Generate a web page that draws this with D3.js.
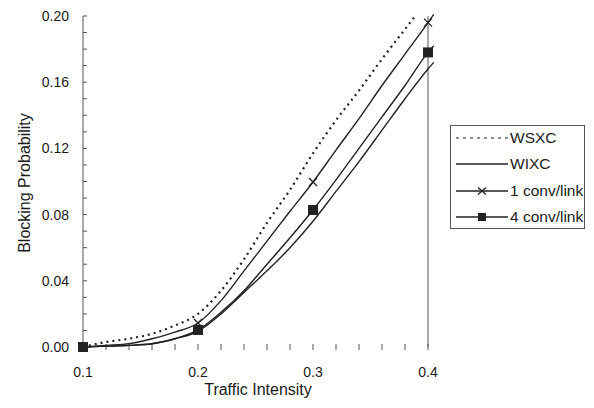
<!DOCTYPE html>
<html>
<head>
<meta charset="utf-8">
<script src="https://cdn.jsdelivr.net/npm/d3@7"></script>
<style>
  body { margin: 0; background: #fff; }
  svg text { font-family: "Liberation Sans", Arial, sans-serif; fill: #1a1a1a; }
</style>
</head>
<body>
<svg width="594" height="408"></svg>
<script>
// traffic intensity samples
const xs = [0.1, 0.12, 0.14, 0.16, 0.18, 0.2, 0.22, 0.24, 0.26, 0.28, 0.3, 0.32, 0.34, 0.36, 0.38, 0.4, 0.405];

const wsxc = [0, 0.003, 0.005, 0.008, 0.013, 0.02, 0.034, 0.053, 0.075, 0.095, 0.117, 0.137, 0.155, 0.174, 0.192];
const wsxcEnd = [0.39, 0.201];
const wixc = [0, 0.0005, 0.001, 0.002, 0.005, 0.0095, 0.02, 0.033, 0.046, 0.060, 0.076, 0.094, 0.112, 0.131, 0.150, 0.168, 0.172];
const conv1 = [0, 0.001, 0.002, 0.005, 0.009, 0.0145, 0.028, 0.046, 0.064, 0.082, 0.0997, 0.119, 0.138, 0.158, 0.177, 0.196, 0.201];
const conv4 = [0, 0.0005, 0.001, 0.002, 0.005, 0.0103, 0.021, 0.034, 0.050, 0.066, 0.0828, 0.101, 0.120, 0.139, 0.158, 0.178, 0.182];

const markerX = [0.1, 0.2, 0.3, 0.4];
const conv1Marks = [0.2, 0.3, 0.4];

const yTicks = [0, 0.04, 0.08, 0.12, 0.16, 0.20];
const xTicks = [0.1, 0.2, 0.3, 0.4];
const legendNames = ["WSXC", "WIXC", "1 conv/link", "4 conv/link"];

const svg = d3.select("svg");
const ink = "#222";

const x = d3.scaleLinear().domain([0.1, 0.4]).range([83, 428]);
const y = d3.scaleLinear().domain([0, 0.2]).range([347, 16]);

// y axis line, right-hand guide + inward minor ticks
svg.append("line")
    .attr("x1", x(0.1)).attr("x2", x(0.1))
    .attr("y1", y(0.2)).attr("y2", y(0))
    .attr("stroke", "#555").attr("stroke-width", 1);
svg.append("line")
    .attr("x1", x(0.4)).attr("x2", x(0.4))
    .attr("y1", y(0.2)).attr("y2", y(0))
    .attr("stroke", "#555").attr("stroke-width", 1);

const yMinor = d3.range(0, 21).map(i => i / 100);
svg.selectAll(".ytick")
    .data(yMinor)
  .enter().append("line")
    .attr("x1", x(0.1)).attr("x2", x(0.1) + 4)
    .attr("y1", d => y(d)).attr("y2", d => y(d))
    .attr("stroke", "#555");

const xMinor = d3.range(0, 16).map(i => 0.1 + i * 0.02);
svg.selectAll(".xtick")
    .data(xMinor)
  .enter().append("line")
    .attr("x1", d => x(d)).attr("x2", d => x(d))
    .attr("y1", y(0) - 3).attr("y2", y(0) + 3)
    .attr("stroke", "#555");

svg.selectAll(".ylab")
    .data(yTicks)
  .enter().append("text")
    .attr("x", 69)
    .attr("y", d => y(d))
    .attr("dy", "0.35em")
    .attr("text-anchor", "end")
    .style("font-size", "14px")
    .text(d => d.toFixed(2));

svg.selectAll(".xlab")
    .data(xTicks)
  .enter().append("text")
    .attr("x", d => x(d))
    .attr("y", 377)
    .attr("text-anchor", "middle")
    .style("font-size", "14px")
    .text(d => d.toFixed(1));

svg.append("text")
    .attr("x", 258).attr("y", 395)
    .attr("text-anchor", "middle")
    .style("font-size", "16px")
    .text("Traffic Intensity");

svg.append("text")
    .attr("transform", "translate(30,183) rotate(-90)")
    .attr("text-anchor", "middle")
    .style("font-size", "16px")
    .text("Blocking Probability");

// curves
const line = d3.line()
    .x(d => x(d[0]))
    .y(d => y(d[1]))
    .curve(d3.curveMonotoneX);

const wsxcPts = wsxc.map((v, i) => [xs[i], v]).concat([wsxcEnd]);
const series = [
  {pts: wsxcPts, dash: "2,4", w: 2.2},
  {pts: wixc.map((v, i) => [xs[i], v]), dash: null, w: 1.4},
  {pts: conv1.map((v, i) => [xs[i], v]), dash: null, w: 1.4},
  {pts: conv4.map((v, i) => [xs[i], v]), dash: null, w: 1.4}
];

svg.selectAll(".curve")
    .data(series)
  .enter().append("path")
    .attr("d", d => line(d.pts))
    .attr("fill", "none")
    .attr("stroke", ink)
    .attr("stroke-width", d => d.w)
    .attr("stroke-dasharray", d => d.dash);

// markers
const c1 = d => conv1[xs.indexOf(d)];
const c4 = d => conv4[xs.indexOf(d)];

svg.selectAll(".cross")
    .data(conv1Marks)
  .enter().append("path")
    .attr("transform", d => `translate(${x(d)},${y(c1(d))})`)
    .attr("d", "M-4,-4L4,4M-4,4L4,-4")
    .attr("stroke", ink).attr("stroke-width", 1.3);

svg.selectAll(".square")
    .data(markerX)
  .enter().append("rect")
    .attr("x", d => x(d) - 5)
    .attr("y", d => y(c4(d)) - 5)
    .attr("width", 10).attr("height", 10)
    .attr("fill", ink);

// legend
const lg = svg.append("g");
lg.append("rect")
    .attr("x", 450.5).attr("y", 125.5)
    .attr("width", 134).attr("height", 103)
    .attr("fill", "#fff").attr("stroke", "#555");

const rowY = [138, 164, 191, 217];
legendNames.forEach(function(name, i) {
    lg.append("line")
        .attr("x1", 456).attr("x2", 508)
        .attr("y1", rowY[i]).attr("y2", rowY[i])
        .attr("stroke", ink)
        .attr("stroke-width", i === 0 ? 1 : 1.3)
        .attr("stroke-dasharray", i === 0 ? "3,4" : null);
    lg.append("text")
        .attr("x", 510).attr("y", rowY[i])
        .attr("dy", "0.35em")
        .style("font-size", "15.5px")
        .text(name);
});
lg.append("path")
    .attr("transform", `translate(482,${rowY[2]})`)
    .attr("d", "M-4,-3.5L4,3.5M-4,3.5L4,-3.5")
    .attr("stroke", ink).attr("stroke-width", 1.3);
lg.append("rect")
    .attr("x", 478).attr("y", rowY[3] - 4)
    .attr("width", 8).attr("height", 8)
    .attr("fill", ink);
</script>
</body>
</html>
